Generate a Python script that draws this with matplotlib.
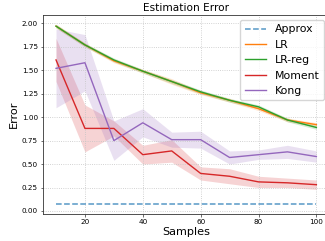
import matplotlib
matplotlib.use("Agg")
import matplotlib.pyplot as plt
import numpy as np

samples = [10, 20, 30, 40, 50, 60, 70, 80, 90, 100]

approx = [0.07] * 10

lr_mean = [1.97, 1.77, 1.60, 1.49, 1.38, 1.26, 1.18, 1.09, 0.97, 0.92]
lr_std = [0.02, 0.02, 0.02, 0.02, 0.03, 0.02, 0.02, 0.02, 0.02, 0.02]

lrreg_mean = [1.97, 1.77, 1.61, 1.49, 1.38, 1.27, 1.18, 1.11, 0.97, 0.89]
lrreg_std = [0.02, 0.02, 0.02, 0.02, 0.02, 0.02, 0.02, 0.02, 0.02, 0.02]

moment_mean = [1.61, 0.88, 0.88, 0.60, 0.64, 0.40, 0.37, 0.31, 0.30, 0.28]
moment_std = [0.23, 0.25, 0.08, 0.10, 0.12, 0.07, 0.08, 0.06, 0.05, 0.05]

kong_mean = [1.52, 1.58, 0.75, 0.94, 0.76, 0.76, 0.57, 0.60, 0.63, 0.58]
kong_std = [0.42, 0.30, 0.21, 0.15, 0.08, 0.09, 0.07, 0.05, 0.07, 0.06]


def band(ax, x, m, s, color, label):
    m = np.array(m)
    s = np.array(s)
    ax.plot(x, m, color=color, lw=1.0, label=label)
    ax.fill_between(x, m - s, m + s, color=color, alpha=0.2, lw=0)


fig = plt.figure(figsize=(3.25, 2.41), dpi=100)
ax = fig.add_axes([0.1323, 0.1141, 0.8812, 0.8253])

ax.plot(samples, approx, "--", color="tab:blue", alpha=0.75, lw=1.1, label="Approx")
band(ax, samples, lr_mean, lr_std, "tab:orange", "LR")
band(ax, samples, lrreg_mean, lrreg_std, "tab:green", "LR-reg")
band(ax, samples, moment_mean, moment_std, "tab:red", "Moment")
band(ax, samples, kong_mean, kong_std, "tab:purple", "Kong")

ax.set_xlim(5.5, 104.5)
ax.set_ylim(-0.027, 2.093)
ax.set_xticks([20, 40, 60, 80, 100])
ax.set_yticks([0.0, 0.25, 0.5, 0.75, 1.0, 1.25, 1.5, 1.75, 2.0])
ax.tick_params(labelsize=5.2, length=1.8, width=0.5, pad=1.8, color="#333333")
ax.grid(True, linestyle=":", color="#c4c4c4", lw=0.6)
for sp in ax.spines.values():
    sp.set_linewidth(0.6)
    sp.set_color("#333333")

ax.set_title("Estimation Error", fontsize=7.6, pad=2.4)
ax.set_xlabel("Samples", fontsize=8.1, labelpad=1.5)
ax.set_ylabel("Error", fontsize=8.1, labelpad=2)
ax.legend(loc="upper right", fontsize=7.8)

fig.savefig("out.png", dpi=100)
